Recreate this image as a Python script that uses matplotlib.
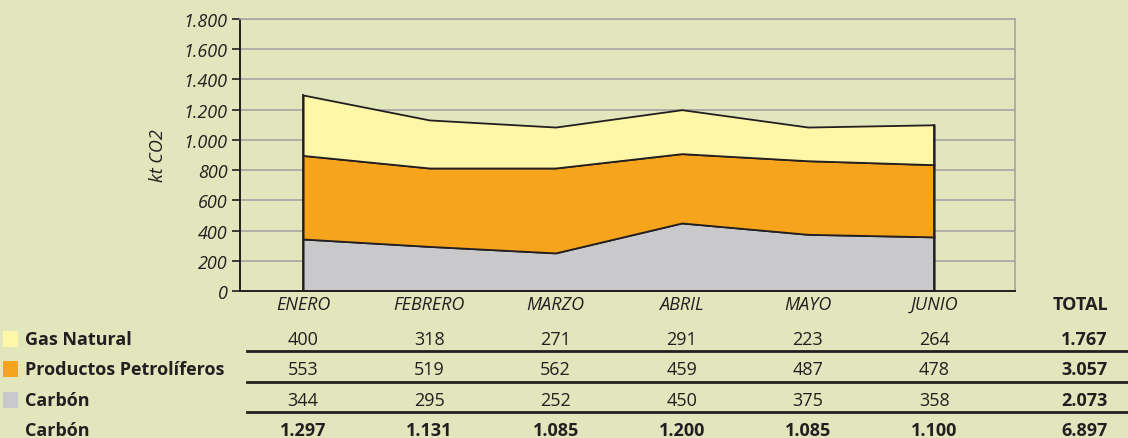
import matplotlib
matplotlib.use("Agg")
import matplotlib.pyplot as plt
from matplotlib.lines import Line2D
from matplotlib.patches import Rectangle
from matplotlib.transforms import blended_transform_factory

months = ["ENERO", "FEBRERO", "MARZO", "ABRIL", "MAYO", "JUNIO"]
gas_natural = [400, 318, 271, 291, 223, 264]
petroliferos = [553, 519, 562, 459, 487, 478]
carbon = [344, 295, 252, 450, 375, 358]
series_names = ["Gas Natural", "Productos Petrolíferos", "Carbón"]
row_totals = ["1.767", "3.057", "2.073"]
month_totals = ["1.297", "1.131", "1.085", "1.200", "1.085", "1.100"]
grand_total = "6.897"
yticks = [0, 200, 400, 600, 800, 1000, 1200, 1400, 1600, 1800]
ytick_labels = ["0", "200", "400", "600", "800", "1.000", "1.200", "1.400", "1.600", "1.800"]

BG = "#e1e6bc"
C_GAS = "#fff7a8"
C_PET = "#f7a41d"
C_CAR = "#c9c9cb"
INK = "#231f20"
FS = 13

plt.rcParams["font.family"] = ["Open Sans", "DejaVu Sans"]

fig = plt.figure(figsize=(11.28, 4.39), dpi=100, facecolor=BG)
ax = fig.add_axes([0.2128, 0.3349, 0.8998 - 0.2128, 0.9544 - 0.3349])
ax.set_facecolor(BG)

x = list(range(len(months)))
ax.stackplot(x, carbon, petroliferos, gas_natural,
             colors=[C_CAR, C_PET, C_GAS], edgecolor=INK, linewidth=1.3)
# vertical edges at both ends of the stack
tops = [c + p + g for c, p, g in zip(carbon, petroliferos, gas_natural)]
for xi in (x[0], x[-1]):
    ax.plot([xi, xi], [0, tops[xi]], color=INK, lw=1.3, zorder=3)

ax.set_xlim(-0.5, 5.64)
ax.set_ylim(0, 1800)
ax.set_yticks(yticks)
ax.set_yticklabels(ytick_labels, fontsize=FS, style="italic", color=INK)
ax.yaxis.grid(True, color="#a5a5a5", lw=1.2)
ax.set_axisbelow(True)
ax.tick_params(axis="y", length=6, width=1.2, color=INK, pad=3)
ax.set_xticks(x)
ax.set_xticklabels(months, fontsize=FS, style="italic", color=INK)
ax.tick_params(axis="x", length=0, pad=3)
ax.set_ylabel("kt CO2", fontsize=FS, style="italic", color=INK, labelpad=12)

for side in ("left", "bottom"):
    ax.spines[side].set_color(INK)
    ax.spines[side].set_linewidth(1.4)
for side in ("right", "top"):
    ax.spines[side].set_color("#a5a5a5")
    ax.spines[side].set_linewidth(1.2)

# data table under the chart
tr = blended_transform_factory(ax.transData, fig.transFigure)
row_y = [1 - 340 / 439, 1 - 370 / 439, 1 - 401 / 439, 1 - 431 / 439]
total_x = 1108 / 1128

fig.text(total_x, 1 - 305 / 439, "TOTAL", ha="right", va="center",
         fontsize=FS, fontweight="bold", color=INK)

rows = [gas_natural, petroliferos, carbon]
colors = [C_GAS, C_PET, C_CAR]
for i, (name, vals, col, tot) in enumerate(zip(series_names, rows, colors, row_totals)):
    y = row_y[i]
    fig.patches.append(Rectangle((3 / 1128, y - 8 / 439), 15 / 1128, 16 / 439,
                                 transform=fig.transFigure, facecolor=col,
                                 edgecolor="none"))
    fig.text(25 / 1128, y, name, ha="left", va="center", fontsize=FS,
             fontweight="bold", color=INK)
    for xi, v in zip(x, vals):
        fig.text(xi, y, str(v), transform=tr, ha="center", va="center",
                 fontsize=FS, color=INK)
    fig.text(total_x, y, tot, ha="right", va="center", fontsize=FS,
             fontweight="bold", color=INK)

y = row_y[3]
fig.text(25 / 1128, y, "Carbón", ha="left", va="center", fontsize=FS,
         fontweight="bold", color=INK)
for xi, v in zip(x, month_totals):
    fig.text(xi, y, v, transform=tr, ha="center", va="center",
             fontsize=FS, fontweight="bold", color=INK)
fig.text(total_x, y, grand_total, ha="right", va="center", fontsize=FS,
         fontweight="bold", color=INK)

for ly in (352, 383, 413):
    fig.add_artist(Line2D([247 / 1128, 1.0], [1 - ly / 439] * 2,
                          transform=fig.transFigure, color=INK, lw=2))

fig.savefig("out.png", dpi=100, facecolor=BG)
